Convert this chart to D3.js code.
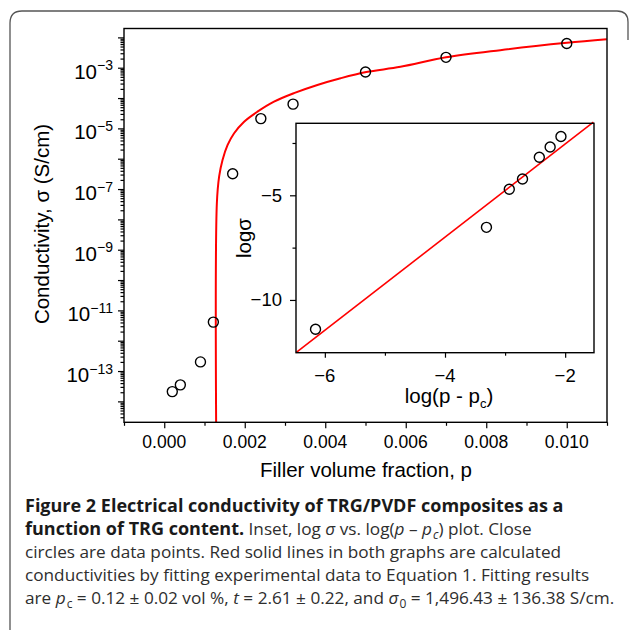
<!DOCTYPE html>
<html>
<head>
<meta charset="utf-8">
<script src="https://cdn.jsdelivr.net/npm/d3@7"></script>
<style>
  body { margin: 0; background: #fff; }
  svg { display: block; }
  .tick line { stroke: #000; stroke-width: 1.2; }
</style>
</head>
<body>
<div id="vis-container"></div>
<script>
let width_fig = 629;
let height_fig = 630;

// main plot: measured points (filler volume fraction, conductivity S/cm)
let main_p = [0.0002, 0.0004, 0.0009, 0.00122, 0.0017, 0.0024, 0.0032, 0.005, 0.007, 0.010];
let main_sigma = [2.1e-14, 3.5e-14, 2.0e-13, 4.1e-12, 3.2e-7, 2.1e-5, 6.3e-5, 7.2e-4, 2.2e-3, 6.3e-3];

// red fitted curve
let fit_p = [0.00129, 0.001307, 0.001364, 0.001448, 0.001572, 0.001736, 0.001984, 0.002316,
             0.002727, 0.003223, 0.003804, 0.004381, 0.005019, 0.005869, 0.007002, 0.008349,
             0.010002, 0.010994];
let fit_sigma = [1e-15, 3.4e-8, 2.6e-7, 9.1e-7, 2.8e-6, 6.9e-6, 1.66e-5, 3.55e-5,
                 7.6e-5, 1.45e-4, 2.7e-4, 4.5e-4, 7.2e-4, 1.07e-3, 2.2e-3, 3.8e-3,
                 6.6e-3, 8.7e-3];

// inset: log(p - pc) vs log(sigma)
let inset_x = [-6.155, -3.31, -2.93, -2.71, -2.43, -2.25, -2.07];
let inset_y = [-11.40, -6.53, -4.71, -4.22, -3.18, -2.69, -2.19];
let inset_fit_x = [-6.48, -1.53];
let inset_fit_y = [-12.52, -1.50];

// ticks
let x_ticks = [0, 0.002, 0.004, 0.006, 0.008, 0.010];
let x_minor = [-0.001, 0.001, 0.003, 0.005, 0.007, 0.009, 0.011];
let y_decades = [-14, -13, -12, -11, -10, -9, -8, -7, -6, -5, -4, -3, -2];
let y_label_exp = [-13, -11, -9, -7, -5, -3];
let inset_x_ticks = [-6, -4, -2];
let inset_x_minor = [-5, -3];
let inset_y_ticks = [-10, -5];
let inset_y_minor = [-7.5, -2.5];

let caption_lines = [
  [["Figure 2 Electrical conductivity of TRG/PVDF composites as a", "b"]],
  [["function of TRG content.", "b"], [" Inset, log ", ""], ["σ", "i"], [" vs. log(", ""], ["p", "i"],
   [" – ", ""], ["p", "i"], ["c", "isub"], [") plot. Close", ""]],
  [["circles are data points. Red solid lines in both graphs are calculated", ""]],
  [["conductivities by fitting experimental data to Equation 1. Fitting results", ""]],
  [["are ", ""], ["p", "i"], ["c", "sub"], [" = 0.12 ± 0.02 vol %, ", ""], ["t", "i"],
   [" = 2.61 ± 0.22, and ", ""], ["σ", "i"], ["0", "sub"], [" = 1,496.43 ± 136.38 S/cm.", ""]]
];

let plot_font = "'Liberation Sans', Arial, sans-serif";
let minus = "\u2212";

let svg = d3.select("#vis-container").append("svg")
  .attr("width", width_fig)
  .attr("height", height_fig);

// outer frame (top and left edges with rounded corners)
svg.append("path")
  .attr("d", "M10,630 V23 Q10,11 22,11 H617 Q628,11 628,22 V40")
  .attr("fill", "none")
  .attr("stroke", "#555")
  .attr("stroke-width", 1.3);

// ----- main plot -----
let x = d3.scaleLinear().domain([-0.001, 0.011]).range([124, 607]);
let y = d3.scaleLog().domain([Math.pow(10, -14.69), Math.pow(10, -1.707)]).range([422.3, 28.5]);

let y_minor = [];
y_decades.concat([-15]).forEach(function (k) {
  for (let m = 2; m <= 9; m++) {
    let v = m * Math.pow(10, k);
    if (v >= y.domain()[0] && v <= y.domain()[1]) y_minor.push(v);
  }
});

svg.append("g")
  .attr("transform", "translate(0,422.3)")
  .call(d3.axisBottom(x).tickValues(x_ticks).tickSize(6).tickFormat(""))
  .call(g => g.select(".domain").remove());
svg.append("g")
  .attr("transform", "translate(0,422.3)")
  .call(d3.axisBottom(x).tickValues(x_minor).tickSize(3.5).tickFormat(""))
  .call(g => g.select(".domain").remove());

svg.append("g")
  .attr("transform", "translate(124,0)")
  .call(d3.axisLeft(y).tickValues(y_decades.map(k => Math.pow(10, k))).tickSize(6).tickFormat(""))
  .call(g => g.select(".domain").remove());
svg.append("g")
  .attr("transform", "translate(124,0)")
  .call(d3.axisLeft(y).tickValues(y_minor).tickSize(3.5).tickFormat(""))
  .call(g => g.select(".domain").remove());

svg.selectAll("text.xlab")
  .data(x_ticks)
  .enter().append("text")
  .attr("class", "xlab")
  .attr("x", d => x(d))
  .attr("y", 448)
  .attr("text-anchor", "middle")
  .style("font", "17.5px " + plot_font)
  .text(d3.format(".3f"));

let ylab = svg.selectAll("text.ylab")
  .data(y_label_exp)
  .enter().append("text")
  .attr("class", "ylab")
  .attr("x", 113)
  .attr("y", d => y(Math.pow(10, d)) + 11)
  .attr("text-anchor", "end")
  .style("font-family", plot_font);
ylab.append("tspan").style("font-size", "20.5px").text("10");
ylab.append("tspan").style("font-size", "14px").attr("dy", -8.5)
  .text(d => minus + Math.abs(d));

svg.append("text")
  .attr("transform", "translate(49,224) rotate(-90)")
  .attr("text-anchor", "middle")
  .style("font", "20.5px " + plot_font)
  .text("Conductivity, σ (S/cm)");

svg.append("text")
  .attr("x", 366)
  .attr("y", 477)
  .attr("text-anchor", "middle")
  .style("font", "20.5px " + plot_font)
  .text("Filler volume fraction, p");

svg.append("clipPath").attr("id", "main-clip")
  .append("rect").attr("x", 124).attr("y", 28.5).attr("width", 483).attr("height", 393.8);

let fit_line = d3.line()
  .x((d, i) => x(fit_p[i]))
  .y(d => y(d))
  .curve(d3.curveCatmullRom.alpha(0.5));

svg.append("path")
  .datum(fit_sigma)
  .attr("clip-path", "url(#main-clip)")
  .attr("d", fit_line)
  .attr("fill", "none")
  .attr("stroke", "#ff0000")
  .attr("stroke-width", 2);

svg.selectAll("circle.main")
  .data(main_sigma)
  .enter().append("circle")
  .attr("class", "main")
  .attr("cx", (d, i) => x(main_p[i]))
  .attr("cy", d => y(d))
  .attr("r", 5)
  .attr("fill", "none")
  .attr("stroke", "#000")
  .attr("stroke-width", 1.4);

svg.append("rect")
  .attr("x", 124).attr("y", 28.5)
  .attr("width", 483).attr("height", 393.8)
  .attr("fill", "none")
  .attr("stroke", "#000")
  .attr("stroke-width", 1.4);

// ----- inset -----
let ix = d3.scaleLinear().domain([-6.48, -1.52]).range([296, 594]);
let iy = d3.scaleLinear().domain([-12.52, -1.56]).range([352.7, 123.3]);

svg.append("rect")
  .attr("x", 296).attr("y", 123.3)
  .attr("width", 298).attr("height", 229.4)
  .attr("fill", "#fff");

svg.append("g")
  .attr("transform", "translate(0,352.7)")
  .call(d3.axisBottom(ix).tickValues(inset_x_ticks).tickSize(5).tickFormat(""))
  .call(g => g.select(".domain").remove());
svg.append("g")
  .attr("transform", "translate(0,352.7)")
  .call(d3.axisBottom(ix).tickValues(inset_x_minor).tickSize(3).tickFormat(""))
  .call(g => g.select(".domain").remove());
svg.append("g")
  .attr("transform", "translate(296,0)")
  .call(d3.axisLeft(iy).tickValues(inset_y_ticks).tickSize(6).tickFormat(""))
  .call(g => g.select(".domain").remove());
svg.append("g")
  .attr("transform", "translate(296,0)")
  .call(d3.axisLeft(iy).tickValues(inset_y_minor).tickSize(3.5).tickFormat(""))
  .call(g => g.select(".domain").remove());

svg.selectAll("text.ixlab")
  .data(inset_x_ticks)
  .enter().append("text")
  .attr("class", "ixlab")
  .attr("x", d => ix(d))
  .attr("y", 381.5)
  .attr("text-anchor", "middle")
  .style("font", "18.5px " + plot_font)
  .text(d => minus + Math.abs(d));

svg.selectAll("text.iylab")
  .data(inset_y_ticks)
  .enter().append("text")
  .attr("class", "iylab")
  .attr("x", 282)
  .attr("y", d => iy(d) + 6.5)
  .attr("text-anchor", "end")
  .style("font", "18.5px " + plot_font)
  .text(d => minus + Math.abs(d));

let ixt = svg.append("text")
  .attr("x", 449)
  .attr("y", 403)
  .attr("text-anchor", "middle")
  .style("font", "20.5px " + plot_font);
ixt.append("tspan").text("log(p - p");
ixt.append("tspan").attr("dy", 5).style("font-size", "13px").text("c");
ixt.append("tspan").attr("dy", -5).text(")");

svg.append("text")
  .attr("transform", "translate(251,238) rotate(-90)")
  .attr("text-anchor", "middle")
  .style("font", "20.5px " + plot_font)
  .text("logσ");

svg.append("path")
  .datum(inset_fit_y)
  .attr("d", d3.line().x((d, i) => ix(inset_fit_x[i])).y(d => iy(d)))
  .attr("fill", "none")
  .attr("stroke", "#ff0000")
  .attr("stroke-width", 1.6);

svg.selectAll("circle.inset")
  .data(inset_y)
  .enter().append("circle")
  .attr("class", "inset")
  .attr("cx", (d, i) => ix(inset_x[i]))
  .attr("cy", d => iy(d))
  .attr("r", 5)
  .attr("fill", "none")
  .attr("stroke", "#000")
  .attr("stroke-width", 1.4);

svg.append("rect")
  .attr("x", 296).attr("y", 123.3)
  .attr("width", 298).attr("height", 229.4)
  .attr("fill", "none")
  .attr("stroke", "#000")
  .attr("stroke-width", 1.4);

// ----- caption -----
let cap_font = "'Open Sans', sans-serif";
caption_lines.forEach(function (segs, li) {
  let t = svg.append("text")
    .attr("x", 25)
    .attr("y", 512 + li * 23)
    .style("font-family", cap_font)
    .style("font-size", "17.2px")
    .attr("fill", "#2e2e2e");
  let shift = 0;
  segs.forEach(function (s) {
    let sub = s[1].indexOf("sub") >= 0;
    let want = sub ? 4 : 0;
    let ts = t.append("tspan").text(s[0]);
    if (want !== shift) { ts.attr("dy", want - shift); shift = want; }
    if (sub) ts.attr("dx", 1);
    if (s[1] === "b") ts.style("font-weight", "bold").style("font-size", "18px").attr("fill", "#1a1a1a");
    if (s[1].indexOf("i") === 0) ts.style("font-style", "italic");
    if (sub) ts.style("font-size", "12px");
  });
});
</script>
</body>
</html>
